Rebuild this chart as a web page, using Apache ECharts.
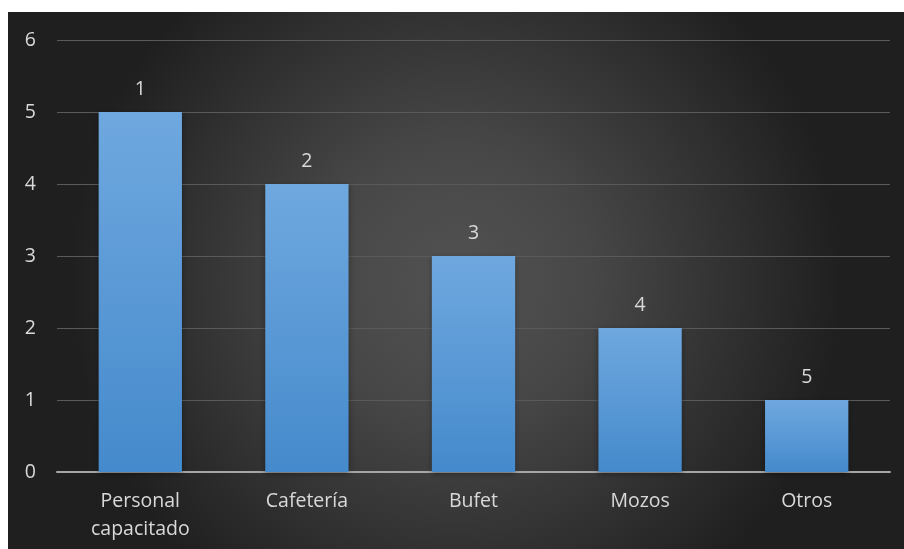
<!DOCTYPE html>
<html>
<head>
<meta charset="utf-8">
<script src="https://cdn.jsdelivr.net/npm/echarts@6/dist/echarts.min.js"></script>
<style>
  html, body { margin: 0; padding: 0; background: #ffffff; }
  #chart { position: absolute; left: 8px; top: 12px; width: 896px; height: 537px; }
</style>
</head>
<body>
<div id="chart"></div>
<script>
// Categories and their bar heights
const categories = ['Personal\ncapacitado', 'Cafetería', 'Bufet', 'Mozos', 'Otros'];
const values = [5, 4, 3, 2, 1];
// Rank shown above each bar
const rankLabels = ['1', '2', '3', '4', '5'];

const chart = echarts.init(document.getElementById('chart'));
const textColor = '#d9d9d9';
const fontFamily = '"Open Sans", Lato, sans-serif';

chart.setOption({
  backgroundColor: {
    type: 'radial', x: 0.5, y: 0.5, r: 0.72,
    colorStops: [
      { offset: 0, color: '#525252' },
      { offset: 0.35, color: '#474747' },
      { offset: 1, color: '#1f1f1f' }
    ]
  },
  animation: false,
  grid: { left: 49, right: 14, top: 28, bottom: 77 },
  xAxis: {
    type: 'category',
    data: categories,
    axisLine: { lineStyle: { color: '#a6a6a6', width: 2 } },
    axisTick: { show: false },
    axisLabel: {
      color: textColor, fontSize: 19.5, fontFamily: fontFamily,
      lineHeight: 28, margin: 15
    }
  },
  yAxis: {
    type: 'value',
    min: 0, max: 6, interval: 1,
    axisLine: { show: false },
    axisTick: { show: false },
    splitLine: { lineStyle: { color: '#5a5a5a', width: 1 } },
    axisLabel: {
      color: textColor, fontSize: 19.5, fontFamily: fontFamily, margin: 21
    }
  },
  series: [{
    type: 'bar',
    data: values,
    barWidth: '50%',
    itemStyle: {
      color: {
        type: 'linear', x: 0, y: 0, x2: 0, y2: 1,
        colorStops: [
          { offset: 0, color: '#6fa8df' },
          { offset: 1, color: '#458acc' }
        ]
      },
      shadowColor: 'rgba(0,0,0,0.35)',
      shadowBlur: 6,
      shadowOffsetY: 2
    },
    label: {
      show: true,
      position: 'top',
      distance: 13,
      color: textColor,
      fontSize: 19.5,
      fontFamily: fontFamily,
      formatter: p => rankLabels[p.dataIndex]
    }
  }]
});
</script>
</body>
</html>
